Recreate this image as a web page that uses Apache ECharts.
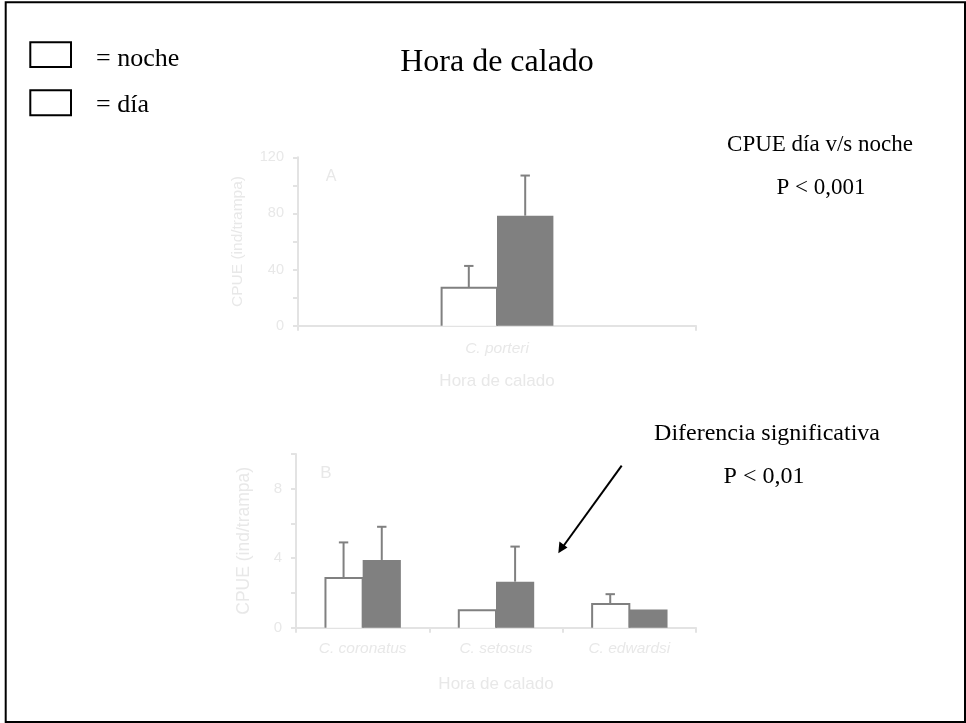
<!DOCTYPE html>
<html>
<head>
<meta charset="utf-8">
<script src="https://cdn.jsdelivr.net/npm/echarts@6/dist/echarts.min.js"></script>
<style>
  html, body { margin: 0; padding: 0; background: #ffffff; }
  #chart { width: 966px; height: 723px; }
</style>
</head>
<body>
<div id="chart"></div>
<script>
// Panel A: C. porteri
const catsA = ['C. porteri'];
const nocheA = [27.1];
const nocheTopA = [42.6];   // mean + error
const diaA = [78.4];
const diaTopA = [107];

// Panel B: other species
const catsB = ['C. coronatus', 'C. setosus', 'C. edwardsi'];
const nocheB = [2.86, 1.01, 1.37];
const nocheTopB = [4.91, 1.01, 1.93];
const diaB = [3.9, 2.65, 1.05];
const diaTopB = [5.81, 4.67, 1.05];

const GREY = '#808080';
const FAINT = '#e8e8e8';
const AXIS = '#e3e3e3';
const SERIF = '"Liberation Serif", "Times New Roman", serif';
const SANS = '"Liberation Sans", Arial, sans-serif';

// Bars drawn as custom shapes: side 0 = noche (left half), 1 = día (right half)
function barRenderer(groupFrac, side) {
  return function (params, api) {
    const cat = api.value(0);
    const val = api.value(1);
    const top = api.value(2);
    const base = api.coord([cat, 0]);
    const band = api.size([1, 0])[0];
    const half = band * groupFrac / 2;
    const x0 = side === 0 ? base[0] - half : base[0];
    const x1 = x0 + half;
    const yv = api.coord([cat, val])[1];
    const yt = api.coord([cat, top])[1];
    const cx = (x0 + x1) / 2;
    const children = [];
    if (side === 0) {
      children.push({ type: 'rect', shape: { x: x0, y: yv, width: half, height: base[1] - yv },
        style: { fill: '#ffffff' } });
      children.push({ type: 'polyline', shape: { points: [[x0 + 1, base[1]], [x0 + 1, yv], [x1, yv], [x1, base[1]]] },
        style: { stroke: GREY, lineWidth: 2, fill: null } });
    } else {
      children.push({ type: 'rect', shape: { x: x0, y: yv, width: half, height: base[1] - yv },
        style: { fill: GREY } });
    }
    if (top > val) {
      children.push({ type: 'line', shape: { x1: cx, y1: yv, x2: cx, y2: yt },
        style: { stroke: GREY, lineWidth: 2 } });
      children.push({ type: 'line', shape: { x1: cx - 4.7, y1: yt, x2: cx + 4.7, y2: yt },
        style: { stroke: GREY, lineWidth: 2 } });
    }
    return { type: 'group', children: children };
  };
}

function rows(cats, vals, tops) {
  return cats.map((c, i) => [i, vals[i], tops[i]]);
}

function yAxisFor(gridIndex, max, interval, labelEvery, nameGap, nameSize, labelSize) {
  return {
    type: 'value', gridIndex: gridIndex, min: 0, max: max, interval: interval,
    name: 'CPUE (ind/trampa)', nameLocation: 'middle', nameGap: nameGap,
    nameTextStyle: { color: FAINT, fontFamily: SANS, fontSize: nameSize },
    axisLine: { show: true, lineStyle: { color: AXIS, width: 2 } },
    axisTick: { show: true, length: 5, lineStyle: { color: AXIS, width: 2 } },
    splitLine: { show: false },
    axisLabel: { color: FAINT, fontFamily: SANS, fontSize: labelSize, margin: 14,
      formatter: v => (v % labelEvery === 0 ? String(v) : '') }
  };
}

function xAxisFor(gridIndex, cats, labelMargin, nameGap) {
  return {
    type: 'category', gridIndex: gridIndex, data: cats, boundaryGap: true,
    name: 'Hora de calado', nameLocation: 'middle', nameGap: nameGap,
    nameTextStyle: { color: FAINT, fontFamily: SANS, fontSize: 17 },
    axisLine: { show: true, lineStyle: { color: AXIS, width: 2 } },
    axisTick: { show: true, length: 5, alignWithLabel: false, lineStyle: { color: AXIS, width: 2 } },
    axisLabel: { color: FAINT, fontFamily: SANS, fontStyle: 'italic', fontSize: 15.5, margin: labelMargin }
  };
}

const chart = echarts.init(document.getElementById('chart'), null, { renderer: 'canvas' });

const option = {
  backgroundColor: '#ffffff',
  animation: false,
  grid: [
    { left: 298, right: 270, top: 157.3, bottom: 397.3 },
    { left: 296, right: 270, top: 454, bottom: 95.3 }
  ],
  xAxis: [
    xAxisFor(0, catsA, 15, 47),
    xAxisFor(1, catsB, 13, 48)
  ],
  yAxis: [
    yAxisFor(0, 120, 20, 40, 52, 15.5, 14.5),
    yAxisFor(1, 10, 2, 4, 43, 17.5, 15)
  ],
  series: [
    { type: 'custom', name: 'noche', xAxisIndex: 0, yAxisIndex: 0,
      renderItem: barRenderer(0.2834, 0), data: rows(catsA, nocheA, nocheTopA) },
    { type: 'custom', name: 'día', xAxisIndex: 0, yAxisIndex: 0,
      renderItem: barRenderer(0.2834, 1), data: rows(catsA, diaA, diaTopA) },
    { type: 'custom', name: 'noche', xAxisIndex: 1, yAxisIndex: 1,
      renderItem: barRenderer(0.573, 0), data: rows(catsB, nocheB, nocheTopB) },
    { type: 'custom', name: 'día', xAxisIndex: 1, yAxisIndex: 1,
      renderItem: barRenderer(0.573, 1), data: rows(catsB, diaB, diaTopB) }
  ],
  graphic: [
    // page frame
    { type: 'rect', shape: { x: 5.7, y: 2.2, width: 959.3, height: 719.8 },
      style: { fill: null, stroke: '#000000', lineWidth: 2 }, silent: true, z: 10 },
    // key boxes
    { type: 'rect', shape: { x: 30.3, y: 42.3, width: 40.7, height: 24.7 },
      style: { fill: '#ffffff', stroke: '#000000', lineWidth: 2 } },
    { type: 'rect', shape: { x: 30.3, y: 90.3, width: 40.7, height: 25 },
      style: { fill: '#ffffff', stroke: '#000000', lineWidth: 2 } },
    { type: 'text', x: 96, y: 59, style: { text: '= noche', font: '26px ' + SERIF, fill: '#000', textVerticalAlign: 'middle' } },
    { type: 'text', x: 96, y: 105, style: { text: '= día', font: '26px ' + SERIF, fill: '#000', textVerticalAlign: 'middle' } },
    // heading
    { type: 'text', x: 497, y: 63, style: { text: 'Hora de calado', font: '32px ' + SERIF, fill: '#000', textAlign: 'center', textVerticalAlign: 'middle' } },
    // test results
    { type: 'text', x: 820, y: 145, style: { text: 'CPUE día v/s noche', font: '23px ' + SERIF, fill: '#000', textAlign: 'center', textVerticalAlign: 'middle' } },
    { type: 'text', x: 821, y: 188, style: { text: 'P < 0,001', font: '23px ' + SERIF, fill: '#000', textAlign: 'center', textVerticalAlign: 'middle' } },
    { type: 'text', x: 767, y: 434, style: { text: 'Diferencia significativa', font: '24px ' + SERIF, fill: '#000', textAlign: 'center', textVerticalAlign: 'middle' } },
    { type: 'text', x: 764, y: 477, style: { text: 'P < 0,01', font: '24px ' + SERIF, fill: '#000', textAlign: 'center', textVerticalAlign: 'middle' } },
    // panel letters
    { type: 'text', x: 331, y: 177, style: { text: 'A', font: '16px ' + SANS, fill: FAINT, textAlign: 'center', textVerticalAlign: 'middle' } },
    { type: 'text', x: 326, y: 473, style: { text: 'B', font: '17px ' + SANS, fill: FAINT, textAlign: 'center', textVerticalAlign: 'middle' } },
    // arrow pointing at C. setosus
    { type: 'line', shape: { x1: 621.7, y1: 465.7, x2: 562, y2: 548 },
      style: { stroke: '#000', lineWidth: 2 } },
    { type: 'polygon', shape: { points: [[558.3, 553.3], [559.4, 541.6], [567.5, 547.5]] },
      style: { fill: '#000' } }
  ]
};

chart.setOption(option);
</script>
</body>
</html>
